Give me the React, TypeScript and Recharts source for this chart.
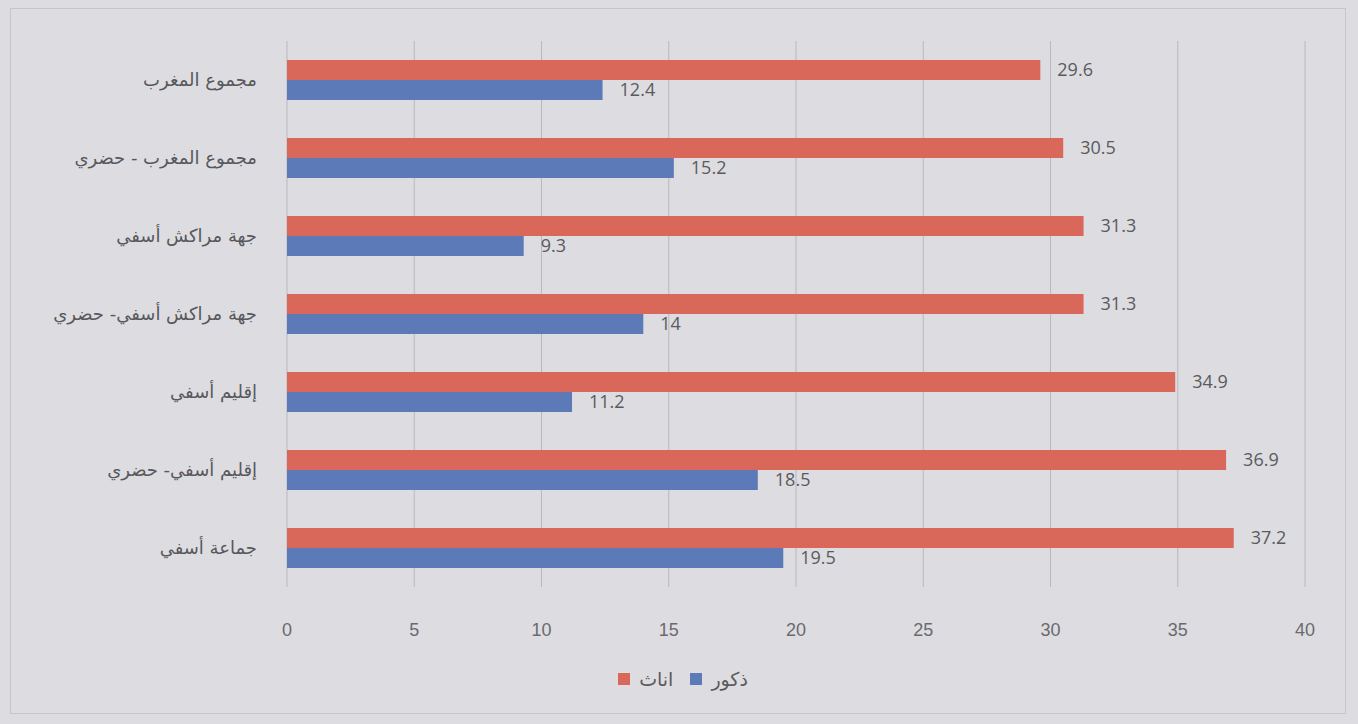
import React from "react";
import { BarChart, Bar, XAxis, YAxis, CartesianGrid, LabelList } from "recharts";

const categories = [
  "مجموع المغرب",
  "مجموع المغرب - حضري",
  "جهة مراكش أسفي",
  "جهة مراكش أسفي- حضري",
  "إقليم  أسفي",
  "إقليم  أسفي- حضري",
  "جماعة أسفي",
];
const females = [29.6, 30.5, 31.3, 31.3, 34.9, 36.9, 37.2];
const males = [12.4, 15.2, 9.3, 14, 11.2, 18.5, 19.5];
const xTicks = [0, 5, 10, 15, 20, 25, 30, 35, 40];
const femaleName = "اناث";
const maleName = "ذكور";

const data = categories.map((c, i) => ({ name: c, f: females[i], m: males[i] }));

const RED = "#d9685a";
const BLUE = "#5d7ab8";

export default function App() {
  return (
    <div
      style={{
        position: "absolute",
        left: 0,
        top: 0,
        width: 1358,
        height: 724,
        background: "#dddde1",
        overflow: "hidden",
      }}
    >
      <div
        style={{
          position: "absolute",
          left: 10,
          top: 8,
          width: 1336,
          height: 706,
          border: "1px solid #c6c6ca",
          boxSizing: "border-box",
        }}
      />
      <BarChart
        width={1358}
        height={724}
        data={data}
        layout="vertical"
        margin={{ top: 41, right: 53, bottom: 107, left: 0 }}
        barGap={0}
        barSize={20}
        style={{ position: "absolute", left: 0, top: 0 }}
      >
        <CartesianGrid horizontal={false} vertical={true} stroke="#b9b9bd" strokeWidth={1} />
        <XAxis
          type="number"
          domain={[0, 40]}
          ticks={xTicks}
          height={30}
          axisLine={false}
          tickLine={false}
          tickMargin={30}
          tick={{ fill: "#6a6a6e", fontSize: 18, fontFamily: "Liberation Sans" }}
        />
        <YAxis
          type="category"
          dataKey="name"
          width={287}
          axisLine={false}
          tickLine={false}
          tickMargin={24}
          tick={{ fill: "#58585c", fontSize: 18, fontFamily: "DejaVu Sans" }}
        />
        <Bar dataKey="f" name={femaleName} fill={RED} isAnimationActive={false}>
          <LabelList
            dataKey="f"
            position="right"
            offset={17}
            style={{ fill: "#5a5a5e", fontSize: 18, fontFamily: "Open Sans" }}
          />
        </Bar>
        <Bar dataKey="m" name={maleName} fill={BLUE} isAnimationActive={false}>
          <LabelList
            dataKey="m"
            position="right"
            offset={17}
            style={{ fill: "#5a5a5e", fontSize: 18, fontFamily: "Open Sans" }}
          />
        </Bar>
      </BarChart>
      <div
        style={{
          position: "absolute",
          top: 668,
          left: 0,
          width: 1358,
          display: "flex",
          justifyContent: "center",
          alignItems: "center",
          fontFamily: "DejaVu Sans",
          fontSize: 19,
          color: "#5a5a5e",
          gap: 9,
          paddingLeft: 8,
          boxSizing: "border-box",
        }}
      >
        <span style={{ width: 12, height: 12, background: RED, display: "inline-block" }} />
        <span style={{ marginRight: 8 }}>{femaleName}</span>
        <span style={{ width: 12, height: 12, background: BLUE, display: "inline-block" }} />
        <span>{maleName}</span>
      </div>
    </div>
  );
}
